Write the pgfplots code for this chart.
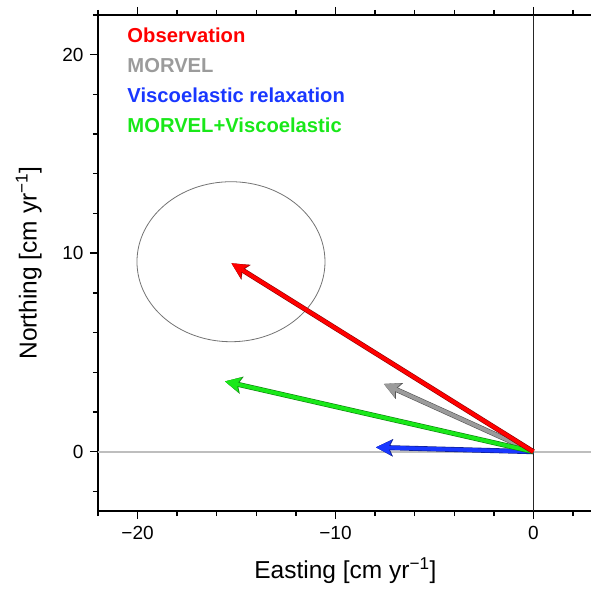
\documentclass[border=0pt]{standalone}
\usepackage{fontspec}
\setmainfont{Liberation Sans}
\usepackage{pgfplots}
\pgfplotsset{compat=1.18}
\usetikzlibrary{arrows.meta}
\definecolor{obsred}{RGB}{255,0,0}
\definecolor{morgray}{RGB}{155,155,155}
\definecolor{visblue}{RGB}{25,55,255}
\definecolor{mvgreen}{RGB}{25,232,25}
\definecolor{zerogray}{RGB}{190,190,190}
\pgfplotsset{
  vecbg/.style={line width=5pt, -{Stealth[length=17pt,width=17.5pt,inset=4pt,line width=0.1pt]}, color=#1!55!black},
  vecfg/.style={line width=3.8pt, -{Stealth[length=15.5pt,width=15pt,inset=3.5pt,line width=0.1pt]}, color=#1},
}
\begin{document}
\begin{tikzpicture}
\begin{axis}[
  name=ax,
  x=19.79pt, y=19.85pt,
  xmin=-22, xmax=3, ymin=-3, ymax=22,
  separate axis lines,
  axis x line*=box,
  axis y line*=left,
  axis line style={line width=1.8pt},
  tick align=outside,
  xtick={-20,-10,0}, xticklabels={−20,−10,0},
  ytick={0,10,20},
  minor xtick={-22,-20,...,2},
  minor ytick={-2,0,...,22},
  major tick length=8pt, minor tick length=5pt,
  tick style={black, line width=1.4pt},
  /pgf/number format/assume math mode=true,
  tick label style={font=\fontsize{19}{21}\selectfont},
  xticklabel style={yshift=-3pt},
  yticklabel style={xshift=-3pt},
  label style={font=\fontsize{24.5}{28}\selectfont},
  xlabel={Easting [cm yr\textsuperscript{−1}]},
  ylabel={Northing [cm yr\textsuperscript{−1}]},
  xlabel style={at={(axis description cs:0.5,-0.135)}, anchor=base},
  ylabel style={at={(axis description cs:-0.124,0.5)}, anchor=base},
]
\addplot[zerogray, line width=2pt] coordinates {(-22,0) (3,0)};
\addplot[black!85, line width=1pt] coordinates {(0,-3) (0,22)};
\draw[black!55, line width=0.8pt] (axis cs:-15.28,9.57) ellipse [x radius=4.75, y radius=4.03];

% Viscoelastic relaxation
\addplot[vecbg=visblue] coordinates {(0,0) (-7.95,0.22)};
\addplot[vecfg=visblue] coordinates {(0,0) (-7.95,0.22)};
% MORVEL
\addplot[vecbg=morgray] coordinates {(0,0) (-7.55,3.41)};
\addplot[vecfg=morgray] coordinates {(0,0) (-7.55,3.41)};
% MORVEL+Viscoelastic
\addplot[vecbg=mvgreen] coordinates {(0,0) (-15.58,3.54)};
\addplot[vecfg=mvgreen] coordinates {(0,0) (-15.58,3.54)};
% Observation
\addplot[vecbg=obsred] coordinates {(0,0) (-15.25,9.49)};
\addplot[vecfg=obsred] coordinates {(0,0) (-15.25,9.49)};

\node[anchor=base west, inner sep=0pt, text=obsred, font=\bfseries\fontsize{20.2}{23}\selectfont] at (axis cs:-20.52,20.63) {Observation};
\node[anchor=base west, inner sep=0pt, text=morgray, font=\bfseries\fontsize{20.2}{23}\selectfont] at (axis cs:-20.52,19.12) {MORVEL};
\node[anchor=base west, inner sep=0pt, text=visblue, font=\bfseries\fontsize{20.2}{23}\selectfont] at (axis cs:-20.52,17.58) {Viscoelastic relaxation};
\node[anchor=base west, inner sep=0pt, text=mvgreen, font=\bfseries\fontsize{20.2}{23}\selectfont] at (axis cs:-20.52,16.10) {MORVEL+Viscoelastic};
\end{axis}
\pgfresetboundingbox
\path ([xshift=-98pt,yshift=-79pt]ax.south west) rectangle ([xshift=493pt,yshift=15pt]ax.north west);
\end{tikzpicture}
\end{document}
